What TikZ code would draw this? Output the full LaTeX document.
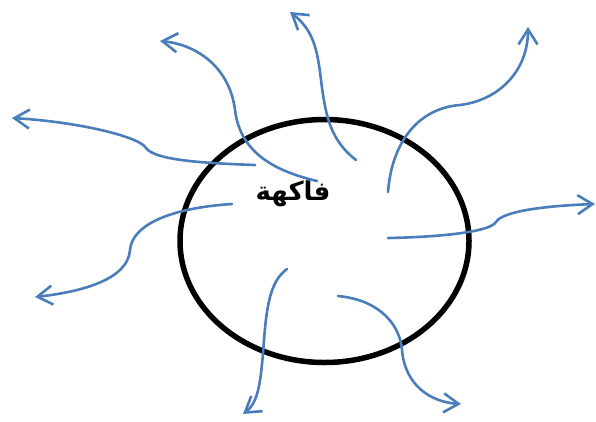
\documentclass[tikz,border=0pt]{standalone}
\usepackage{fontspec}
\TeXXeTstate=1
\newfontfamily\arabicfont[Script=Arabic]{DejaVu Sans}
\usetikzlibrary{arrows.meta,shapes.geometric}
\definecolor{arrowblue}{RGB}{74,126,187}
\begin{document}
\begin{tikzpicture}[x=1pt,y=-1pt,
  flow/.style={draw=arrowblue, line width=2.6pt, line cap=round,
    -{Straight Barb[length=15pt,width=19pt]}},
  ring/.style={draw=black, line width=5.5pt}]
\useasboundingbox (0,0) rectangle (596,421);
\node[ring, ellipse, minimum width=289pt, minimum height=243pt, inner sep=0pt] (fruit) at (324.5,241) {};
\node[inner sep=0pt] (label) at (293,194) {\arabicfont\bfseries\fontsize{26}{30}\selectfont\beginR فاكهة\endR};
% start and end points
\coordinate (s1) at (255,165); \coordinate (t1) at (12,118);
\coordinate (s2) at (317,181); \coordinate (t2) at (160,41);
\coordinate (s3) at (356,160); \coordinate (t3) at (290,12);
\coordinate (s4) at (388,192); \coordinate (t4) at (528,27);
\coordinate (s5) at (388,238); \coordinate (t5) at (595,204);
\coordinate (s6) at (338,296); \coordinate (t6) at (461,404);
\coordinate (s7) at (287,269); \coordinate (t7) at (243,414);
\coordinate (s8) at (232,204); \coordinate (t8) at (35,297);
\draw[flow] (s1) .. controls (200,163) and (155,160) .. (146,148)
  .. controls (140,137) and (80,122) .. (t1);
\draw[flow] (s2) .. controls (270,170) and (240,150) .. (235,110)
  .. controls (230,70) and (200,45) .. (t2);
\draw[flow] (s3) .. controls (330,140) and (326,115) .. (322,88)
  .. controls (318,55) and (316,32) .. (t3);
\draw[flow] (s4) .. controls (392,140) and (420,108) .. (460,105)
  .. controls (500,100) and (528,70) .. (t4);
\draw[flow] (s5) .. controls (440,237) and (490,232) .. (496,222)
  .. controls (502,212) and (540,206) .. (t5);
\draw[flow] (s6) .. controls (380,300) and (400,325) .. (402,350)
  .. controls (405,385) and (430,402) .. (t6);
\draw[flow] (s7) .. controls (272,280) and (267,300) .. (264,340)
  .. controls (261,380) and (259,402) .. (t7);
\draw[flow] (s8) .. controls (170,208) and (132,225) .. (130,250)
  .. controls (128,280) and (80,292) .. (t8);
\end{tikzpicture}
\end{document}
